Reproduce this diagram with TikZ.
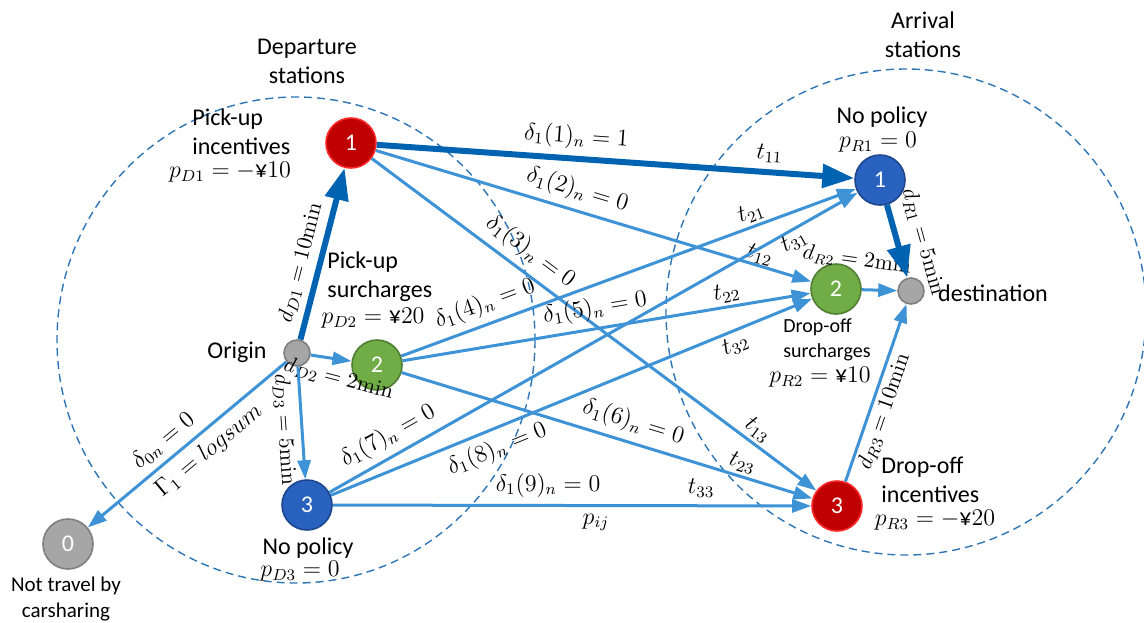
\documentclass[tikz,border=0pt]{standalone}
\usepackage{amsmath}
\usepackage[no-math]{fontspec}
\setmainfont{Carlito}
\usepackage{tikz}
\usetikzlibrary{arrows.meta}
\definecolor{stred}{RGB}{192,0,0}
\definecolor{stredline}{RGB}{255,40,40}
\definecolor{stblue}{RGB}{40,98,190}
\definecolor{stblueline}{RGB}{30,70,140}
\definecolor{stgreen}{RGB}{112,173,71}
\definecolor{stgreenline}{RGB}{80,126,50}
\definecolor{hubgray}{RGB}{166,166,166}
\definecolor{hubline}{RGB}{127,127,127}
\definecolor{linkblue}{RGB}{62,146,214}
\definecolor{mainblue}{RGB}{0,99,177}
\definecolor{zoneblue}{RGB}{46,117,182}

\tikzset{
  station/.style={circle, minimum size=25pt, inner sep=0pt, text=white, line width=0.8pt},
  hub/.style={circle, minimum size=13pt, inner sep=0pt, fill=hubgray, draw=hubline, line width=0.8pt},
  link/.style={draw=linkblue, line width=1.5pt, -{Triangle[length=9.5pt, width=6.5pt]}},
  mainlink/.style={draw=mainblue, line width=3pt, -{Triangle[length=16pt, width=11.5pt]}},
  zone/.style={draw=zoneblue, dash pattern=on 4pt off 2.5pt, line width=0.7pt},
  note/.style={align=left, inner sep=0pt},
  tlab/.style={sloped, inner sep=1.5pt},
  dlab/.style={sloped, font=\fontsize{11}{13}\selectfont}
}

\begin{document}
\begin{tikzpicture}[>=Stealth, x=0.5pt, y=-0.5pt, font=\fontsize{12}{14.5}\selectfont]
  \useasboundingbox (0,0) rectangle (1144,622);

  % station groups
  \draw[zone] (296,340) ellipse [x radius=239, y radius=243];
  \draw[zone] (906,312) ellipse [x radius=240, y radius=243];
  \node[align=center] (depart) at (307,61) {Departure\\stations};
  \node[align=center] (arrive) at (923,35) {Arrival\\stations};

  % departure side
  \node[station, fill=stred, draw=stredline] (d1) at (351,143) {1};
  \node[station, fill=stgreen, draw=stgreenline] (d2) at (377,365) {2};
  \node[station, fill=stblue, draw=stblueline] (d3) at (307,505) {3};
  \node[hub] (org) at (297,353) {};
  \node[station, fill=hubgray, draw=hubline] (none) at (68,544) {0};

  \node[note, anchor=west] (pickinc) at (192,132) {Pick-up\\incentives};
  \node (pd1) at (230,172) {$p_{D1} = -\mbox{¥}10$};
  \node[note, anchor=west] (picksur) at (327,277) {Pick-up\\surcharges};
  \node (pd2) at (373,318) {$p_{D2} = \mbox{¥}20$};
  \node (orglab) at (237,352) {Origin};
  \node (nopold) at (308,548) {No policy};
  \node (pd3) at (300,571) {$p_{D3} = 0$};
  \node[align=center, font=\fontsize{10.5}{13}\selectfont] (notcs) at (66,599) {Not travel by\\carsharing};

  % arrival side
  \node[station, fill=stblue, draw=stblueline] (a1) at (880,180) {1};
  \node[station, fill=stgreen, draw=stgreenline] (a2) at (836,289) {2};
  \node[station, fill=stred, draw=stredline] (a3) at (837,506) {3};
  \node[hub] (dst) at (911,291) {};

  \node (nopola) at (882,117) {No policy};
  \node (pr1) at (878,142) {$p_{R1} = 0$};
  \node (dstlab) at (993,293) {destination};
  \node[note, anchor=west, font=\fontsize{10}{12.5}\selectfont] (dropsur) at (783,340) {Drop-off\\surcharges};
  \node (pr2) at (820,377) {$p_{R2} = \mbox{¥}10$};
  \node[note, anchor=west] (dropinc) at (881,480) {Drop-off\\incentives};
  \node (pr3) at (935,520) {$p_{R3} = -\mbox{¥}20$};
  \node[rotate=-8, inner sep=1pt, font=\fontsize{10.5}{12.5}\selectfont] (dr2) at (857,260) {$d_{R2} = 2\mathrm{min}$};

  % access legs
  \draw[mainlink] (org) -- (d1) node[pos=0.42, above, dlab] {$d_{D1} = 10\mathrm{min}$};
  \draw[link] (org) -- (d2) node[pos=0.8, below=1pt, dlab, rotate=-6] {$d_{D2} = 2\mathrm{min}$};
  \draw[link] (org) -- (d3) node[pos=0.55, below, dlab] {$d_{D3} = 5\mathrm{min}$};
  \draw[link] (org) -- (none)
    node[pos=0.56, above, sloped] {$\delta_{0n} = 0$}
    node[pos=0.45, below, sloped] {$\Gamma_1 = logsum$};

  % car trips between stations
  \draw[mainlink] (d1) -- (a1) node[pos=0.415, above, sloped] {$\delta_1(1)_n = 1$}
    node[pos=0.82, above, sloped] {$t_{11}$};
  \draw[link] (d1) -- (a2) node[pos=0.45, above, sloped] {$\delta_1(2)_n = 0$}
    node[pos=0.875, above, tlab, inner sep=0pt] {$t_{12}$};
  \draw[link] (d1) -- (a3) node[pos=0.33, above, sloped] {$\delta_1(3)_n = 0$}
    node[pos=0.85, above, tlab] {$t_{13}$};
  \draw[link] (d2) -- (a1) node[pos=0.2, above, sloped] {$\delta_1(4)_n = 0$}
    node[pos=0.78, above, tlab] {$t_{21}$};
  \draw[link] (d2) -- (a2) node[pos=0.48, above, sloped] {$\delta_1(5)_n = 0$}
    node[pos=0.80, above, tlab] {$t_{22}$};
  \draw[link] (d2) -- (a3) node[pos=0.55, above, sloped] {$\delta_1(6)_n = 0$}
    node[pos=0.82, above, tlab] {$t_{23}$};
  \draw[link] (d3) -- (a1) node[pos=0.13, above, sloped] {$\delta_1(7)_n = 0$}
    node[pos=0.87, below, tlab, inner sep=0pt] {$t_{31}$};
  \draw[link] (d3) -- (a2) node[pos=0.33, below, sloped] {$\delta_1(8)_n = 0$}
    node[pos=0.83, below, tlab] {$t_{32}$};
  \draw[link] (d3) -- (a3) node[pos=0.45, above] {$\delta_1(9)_n = 0$}
    node[pos=0.55, below] {$p_{ij}$}
    node[pos=0.77, above] {$t_{33}$};

  % egress legs
  \draw[mainlink] (a1) -- (dst) node[pos=0.6, above=3pt, dlab] {$d_{R1} = 5\mathrm{min}$};
  \draw[link] (a2) -- (dst);
  \draw[link] (a3) -- (dst) node[pos=0.42, below, dlab, inner sep=1.5pt] {$d_{R3} = 10\mathrm{min}$};
\end{tikzpicture}
\end{document}
